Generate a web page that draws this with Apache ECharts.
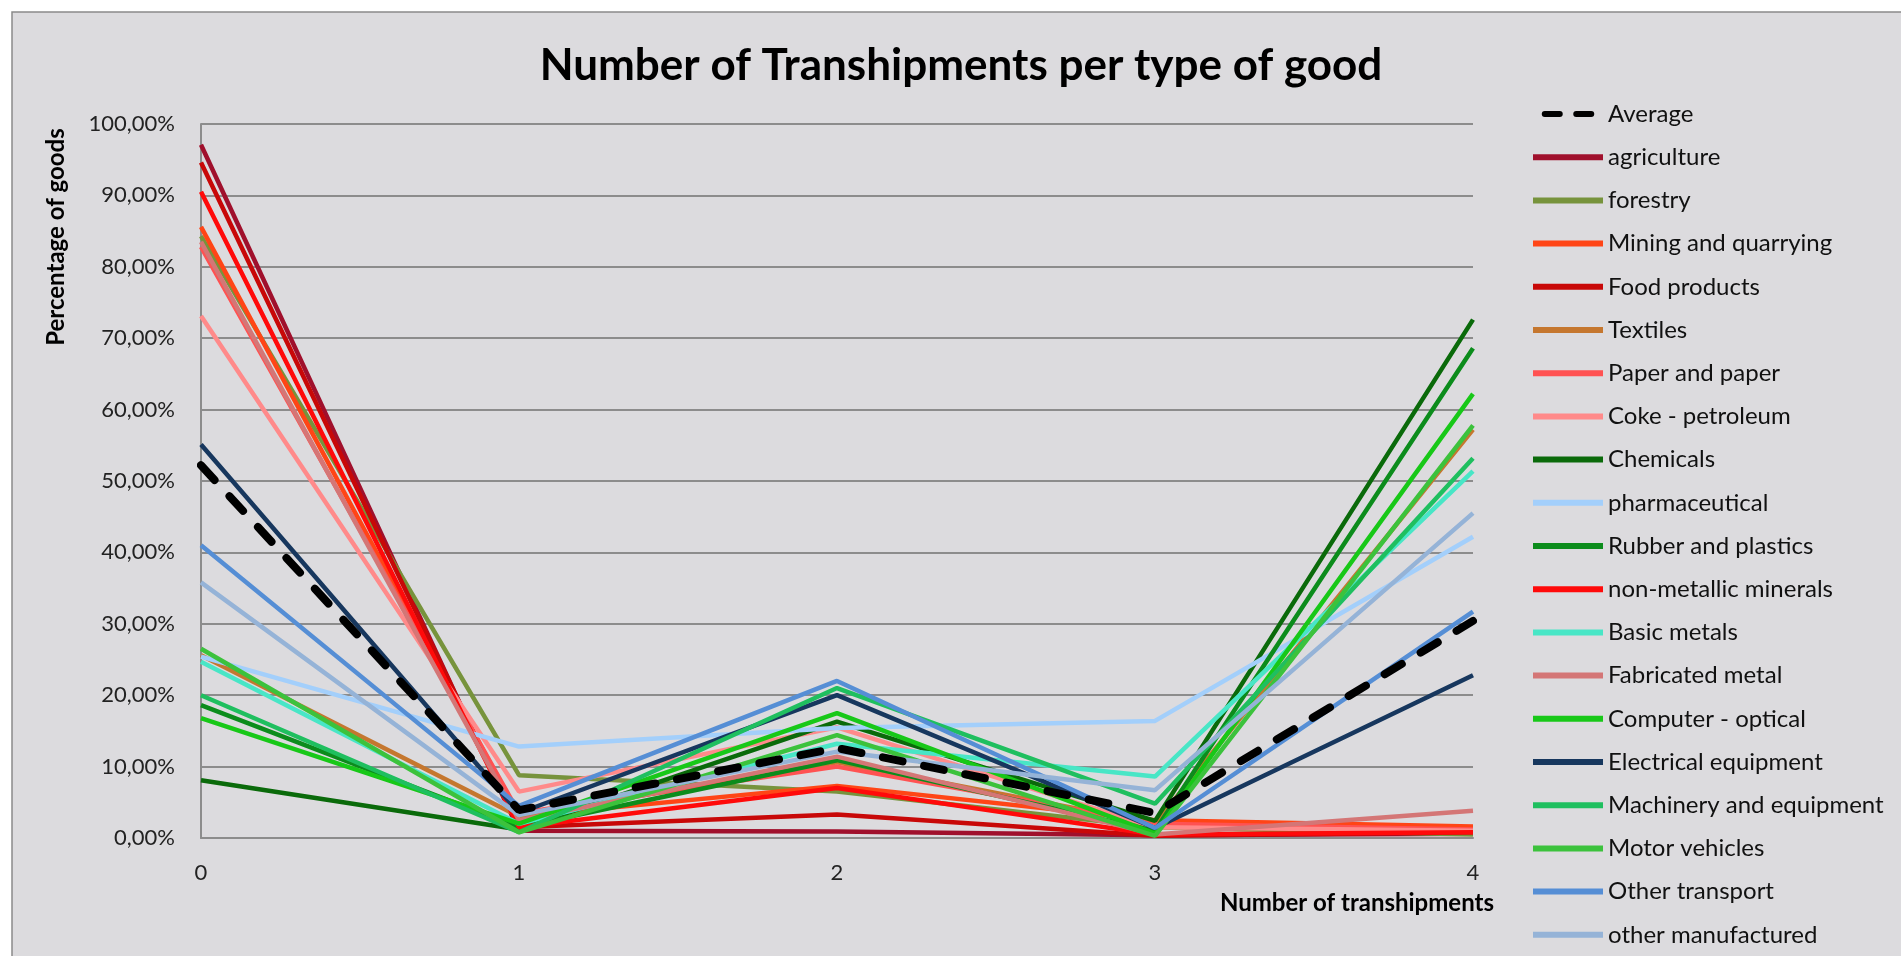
<!DOCTYPE html>
<html><head><meta charset="utf-8">
<script src="https://cdn.jsdelivr.net/npm/echarts@6/dist/echarts.min.js"></script>
<style>html,body{margin:0;padding:0;background:#fff}#c{width:1901px;height:956px}</style>
</head><body><div id="c"></div>
<script>
// ---- data ----
const categories = ['0', '1', '2', '3', '4'];
const seriesNames = ['Average', 'agriculture', 'forestry', 'Mining and quarrying', 'Food products', 'Textiles',
  'Paper and paper', 'Coke - petroleum', 'Chemicals', 'pharmaceutical', 'Rubber and plastics',
  'non-metallic minerals', 'Basic metals', 'Fabricated metal', 'Computer - optical',
  'Electrical equipment', 'Machinery and equipment', 'Motor vehicles', 'Other transport', 'other manufactured'];
const average        = [52.2, 3.9, 12.6, 3.5, 30.4];
const agriculture    = [97.1, 1.0, 0.9, 0.4, 0.6];
const forestry       = [84.3, 8.8, 6.5, 1.5, 0.5];
const mining         = [85.6, 3.0, 7.3, 2.5, 1.6];
const food           = [94.6, 1.5, 3.3, 0.3, 0.8];
const textiles       = [25.6, 3.0, 10.6, 2.0, 57.2];
const paper          = [82.8, 3.5, 10.0, 2.0, 1.2];
const coke           = [73.1, 6.5, 15.5, 1.5, 1.0];
const chemicals      = [8.1, 1.2, 16.3, 2.4, 72.6];
const pharmaceutical = [25.4, 12.8, 15.4, 16.4, 42.2];
const rubber         = [18.6, 1.5, 10.9, 1.0, 68.6];
const nonMetallic    = [90.5, 1.5, 7.0, 0.5, 0.8];
const basicMetals    = [24.7, 2.0, 13.2, 8.6, 51.4];
const fabricated     = [83.5, 2.5, 11.4, 0.5, 3.8];
const computer       = [16.8, 2.0, 17.5, 0.6, 62.2];
const electrical     = [55.1, 3.5, 20.0, 1.4, 22.8];
const machinery      = [20.0, 0.8, 21.0, 4.8, 53.2];
const motorVehicles  = [26.5, 0.8, 14.4, 0.3, 57.8];
const otherTransport = [41.0, 4.5, 22.0, 1.4, 31.7];
const otherManuf     = [35.8, 3.2, 12.1, 6.7, 45.5];
const seriesData = [average, agriculture, forestry, mining, food, textiles, paper, coke, chemicals,
  pharmaceutical, rubber, nonMetallic, basicMetals, fabricated, computer, electrical, machinery,
  motorVehicles, otherTransport, otherManuf];

// ---- styles ----
const seriesColors = ['#000000', '#a0102c', '#77933c', '#ff4516', '#c80808', '#c5772f',
  '#ff5252', '#ff8a8a', '#0a6a0a', '#a3cffb', '#0c8c1c', '#ff0a0a', '#48e6c6', '#d47676',
  '#18c818', '#17375e', '#1fbf5f', '#3cc23c', '#558ed5', '#95b3d7'];
const FONT = 'Lato, "Open Sans", sans-serif';
const DASH_ICON = 'path://M4,0h20a4,4 0 0 1 0,8h-20a4,4 0 0 1 0,-8z M46,0h20a4,4 0 0 1 0,8h-20a4,4 0 0 1 0,-8z';

const series = seriesNames.map((name, i) => ({
  name: name,
  type: 'line',
  data: seriesData[i],
  symbol: 'none',
  color: seriesColors[i],
  lineStyle: i === 0
    ? { width: 8, color: '#000', type: [20, 22], cap: 'round' }
    : { width: 4.5, color: seriesColors[i] },
  emphasis: { disabled: true },
  z: i === 0 ? 3 : 2
}));

const legendData = seriesNames.map((name, i) => i === 0 ? { name: name, icon: DASH_ICON } : { name: name, icon: 'rect' });

const chart = echarts.init(document.getElementById('c'), null, { renderer: 'canvas' });
chart.setOption({
  animation: false,
  backgroundColor: '#ffffff',
  graphic: [
    { type: 'rect', z: -10, shape: { x: 12, y: 12, width: 1900, height: 950 },
      style: { fill: '#dcdbde', stroke: '#8a8a8a', lineWidth: 1.5 } },
    { type: 'text', x: 961, y: 66,
      style: { text: 'Number of Transhipments per type of good', font: 'bold 44px ' + FONT,
        fill: '#000', align: 'center', verticalAlign: 'middle' } },
    { type: 'text', x: 56, y: 237, rotation: Math.PI / 2,
      style: { text: 'Percentage of goods', font: 'bold 24px ' + FONT,
        fill: '#000', align: 'center', verticalAlign: 'middle' } },
    { type: 'text', x: 1494, y: 903,
      style: { text: 'Number of transhipments', font: 'bold 24px ' + FONT,
        fill: '#000', align: 'right', verticalAlign: 'middle' } }
  ],
  legend: {
    orient: 'vertical', left: 1533, top: 102, padding: 0,
    itemWidth: 70, itemHeight: 6, itemGap: 19.2,
    textStyle: { fontFamily: FONT, fontSize: 24, color: '#111', lineHeight: 24 },
    selectedMode: false,
    data: legendData
  },
  grid: { left: 201, right: 428, top: 124, bottom: 118 },
  xAxis: {
    type: 'category', data: categories, boundaryGap: false,
    axisLine: { show: true, lineStyle: { color: '#8c8c8c', width: 2 } },
    axisTick: { show: false },
    axisLabel: { margin: 24, fontFamily: FONT, fontSize: 22, color: '#222' },
    splitLine: { show: false }
  },
  yAxis: {
    type: 'value', min: 0, max: 100, interval: 10,
    axisLine: { show: true, lineStyle: { color: '#8c8c8c', width: 2 } },
    axisTick: { show: false },
    axisLabel: { margin: 26, fontFamily: FONT, fontSize: 22, color: '#222',
      formatter: v => v.toFixed(2).replace('.', ',') + '%' },
    splitLine: { show: true, lineStyle: { color: '#8c8c8c', width: 2 } }
  },
  series: series
});
</script></body></html>
